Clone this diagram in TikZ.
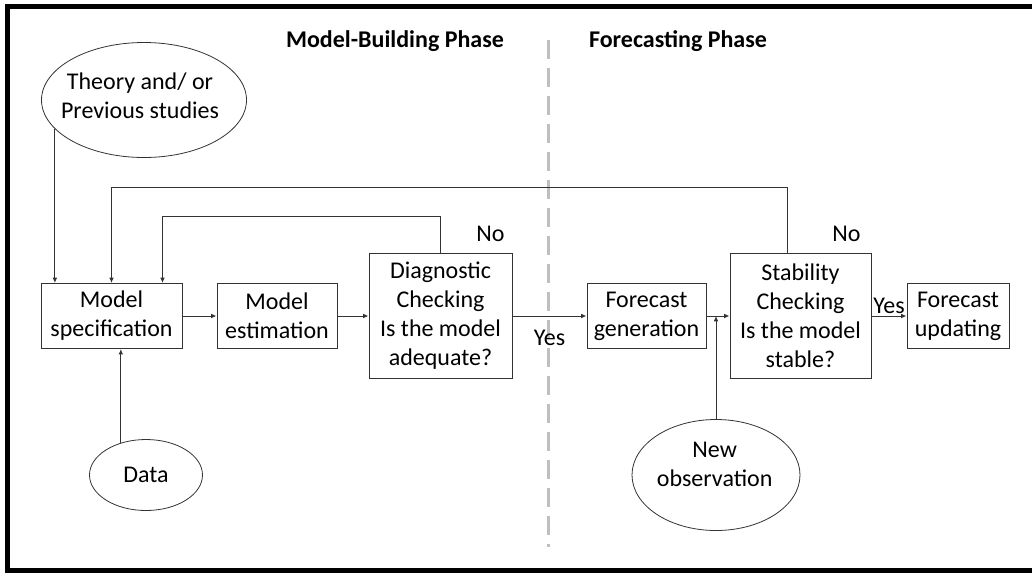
\documentclass[tikz,border=0pt]{standalone}
\usepackage{fontspec}
\setmainfont{Carlito}
\usetikzlibrary{shapes.geometric,arrows.meta,positioning,calc}

\begin{document}
\begin{tikzpicture}[
    x=0.75pt, y=-0.75pt,
    every node/.style={font=\fontsize{18}{21.75}\selectfont},
    block/.style={draw=black!80, line width=0.75pt, minimum height=48.75pt, inner sep=2pt, align=center},
    oval/.style={draw=black!80, line width=0.6pt, ellipse, inner sep=0pt},
    phase/.style={font=\fontsize{18}{21.75}\selectfont\bfseries},
    lbl/.style={inner sep=1pt},
    arrow/.style={->, line width=0.75pt, draw=black!80, >={Latex[length=4pt,width=3.5pt]}}
]
\useasboundingbox (0,0) rectangle (1032,572);
% frame (open on the right)
\draw[line width=3.75pt] (1032,6) -- (7.5,6) -- (7.5,570.5) -- (1032,570.5);

% phases
\node[phase] (build) at (395,41) {Model-Building Phase};
\node[phase] (fcast) at (678,41) {Forecasting Phase};
\draw[black!25, line width=2.25pt, dash pattern=on 14pt off 7pt] (548,40) -- (548,547);

% main chain
\node[block, minimum width=105.75pt] (spec) at (111.5,316) {Model\\specification};
\node[block, minimum width=90pt, right=25.5pt of spec] (est) {Model\\estimation};
\node[block, minimum width=107.25pt, minimum height=93.75pt, right=23.25pt of est] (diag) {Diagnostic\\Checking\\Is the model\\adequate?};
\node[block, minimum width=89.25pt, right=55.5pt of diag] (fgen) {Forecast\\generation};
\node[block, minimum width=105.75pt, minimum height=93.75pt, right=17.25pt of fgen] (stab) {Stability\\Checking\\Is the model\\stable?};
\node[block, minimum width=76.5pt, right=26.25pt of stab] (fupd) {Forecast\\updating};

% inputs
\node[oval, minimum width=153.75pt, minimum height=86.25pt,
      label={[xshift=-3pt, yshift=3pt, align=center]center:Theory and/ or\\Previous studies}] (theory) at (144,100) {};
\node[oval, minimum width=84.75pt, minimum height=53.25pt] (data) at (146,475) {Data};
\node[oval, minimum width=126pt, minimum height=83.25pt,
      label={[xshift=-1pt, yshift=8.25pt, align=center]center:New\\observation}] (newobs) at (716,475) {};

% arrows
\draw[arrow] (theory.198) -- (theory.198 |- spec.north);
\draw[arrow] (data.128) -- (data.128 |- spec.south);
\draw[arrow] (spec) -- (est);
\draw[arrow] (est) -- (diag);
\draw[arrow] (diag) -- (fgen) node[lbl, midway, below=9pt] (yes1) {Yes};
\draw[arrow] (fgen) -- (stab);
\draw[arrow] (newobs.north) -- (newobs.north |- fgen.east);
\draw[arrow] (stab) -- (fupd) node[lbl, midway, above=0.5pt] (yes2) {Yes};

% feedback loops
\draw[arrow] (diag.north) -- ++(0,-37) -| ($(spec.north east)+(-20,0)$);
\draw[arrow] ($(stab.north)+(-13,0)$) -- ++(0,-66) -| (spec.north);
\node[lbl, anchor=base] (no1) at ([xshift=-16.5pt, yshift=9pt]diag.north east) {No};
\node[lbl, anchor=base] (no2) at ([xshift=-18.75pt, yshift=9pt]stab.north east) {No};
\end{tikzpicture}
\end{document}
